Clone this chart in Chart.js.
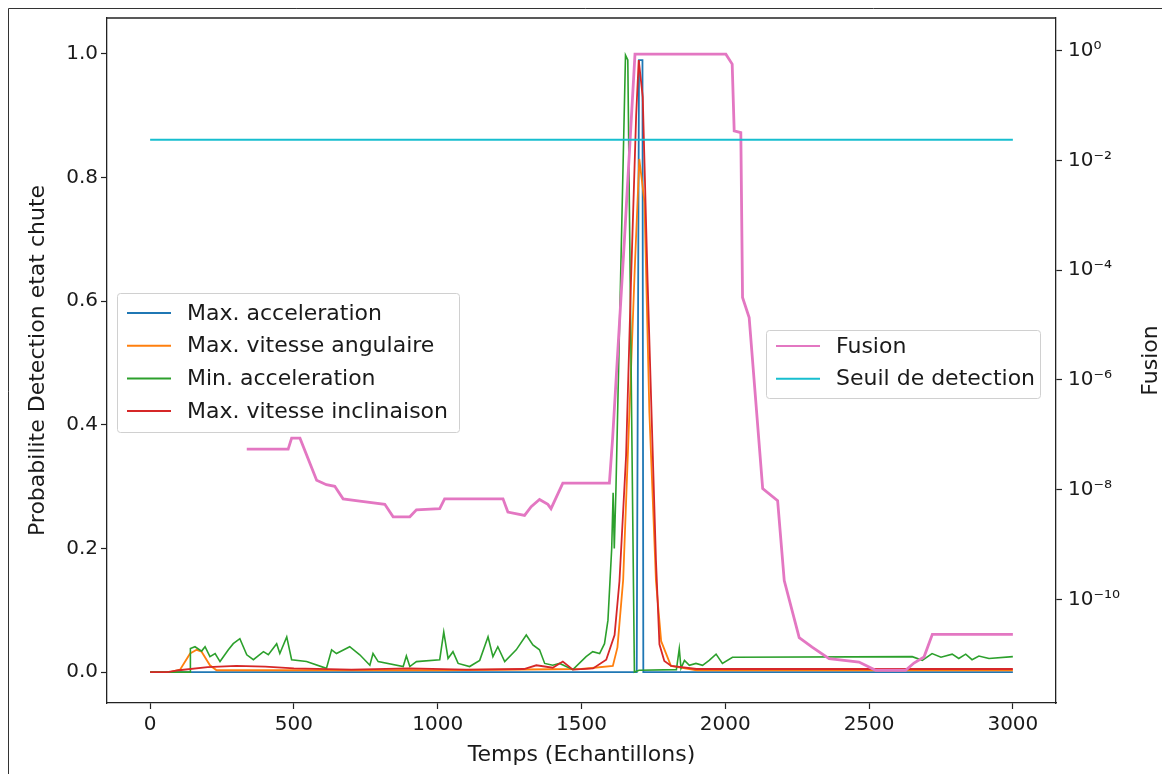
<!DOCTYPE html>
<html>
<head>
<meta charset="utf-8">
<script src="https://cdn.jsdelivr.net/npm/chart.js@4.4.1/dist/chart.umd.min.js"></script>
<style>
  html, body { margin: 0; padding: 0; background: #fff; }
  canvas { display: block; }
</style>
</head>
<body>
<canvas id="chuteChart" width="1162" height="774"></canvas>
<script>
// samples (x) and detector outputs
const accMaxX = [0, 1692, 1700, 1712, 1715, 3000];
const accMaxY = [0, 0, 0.99, 0.99, 0, 0];

const angX = [0, 69, 104, 139, 162, 179, 208, 231, 500, 1000, 1500, 1609, 1625, 1645, 1665, 1685, 1701, 1719, 1736, 1759, 1777, 1811, 1900, 3000];
const angY = [0, 0, 0.004, 0.03, 0.036, 0.033, 0.011, 0.003, 0.003, 0.003, 0.005, 0.01, 0.04, 0.15, 0.4, 0.65, 0.83, 0.76, 0.42, 0.147, 0.05, 0.01, 0.003, 0.003];

const accMinX = [0, 139, 140, 156, 179, 191, 208, 226, 243, 272, 289, 312, 336, 359, 394, 411, 440, 451, 475, 492,
  544, 613, 631, 648, 694, 729, 764, 775, 793, 880, 891, 903, 926, 1007, 1021, 1036, 1053, 1071, 1111, 1146,
  1175, 1192, 1209, 1233, 1273, 1308, 1331, 1354, 1372, 1400, 1424, 1470, 1516, 1539, 1563, 1580, 1592, 1605, 1610, 1614,
  1620, 1653, 1661, 1684, 1700, 1830, 1840, 1846, 1858, 1875, 1898, 1921, 1944, 1968, 1990, 2025, 2650, 2685, 2719, 2750,
  2789, 2812, 2836, 2858, 2882, 2917, 3000];
const accMinY = [0, 0, 0.038, 0.041, 0.034, 0.041, 0.025, 0.03, 0.017, 0.036, 0.046, 0.054, 0.028, 0.02, 0.033, 0.028, 0.046, 0.03, 0.057, 0.02,
  0.017, 0.006, 0.036, 0.03, 0.041, 0.028, 0.011, 0.03, 0.017, 0.009, 0.026, 0.009, 0.017, 0.02, 0.065, 0.022, 0.033, 0.014, 0.009, 0.019,
  0.057, 0.025, 0.041, 0.017, 0.036, 0.06, 0.044, 0.036, 0.014, 0.011, 0.014, 0.004, 0.025, 0.033, 0.03, 0.046, 0.084, 0.2, 0.29, 0.2,
  0.3, 0.998, 0.99, 0, 0.003, 0.004, 0.038, 0.006, 0.019, 0.011, 0.014, 0.011, 0.019, 0.029, 0.014, 0.024, 0.025, 0.019, 0.03, 0.024,
  0.029, 0.022, 0.029, 0.02, 0.026, 0.022, 0.025];

const incX = [0, 60, 100, 200, 300, 400, 500, 700, 900, 1100, 1300, 1343, 1400, 1435, 1470, 1540, 1586, 1615, 1632, 1655,
  1672, 1690, 1699, 1713, 1730, 1748, 1759, 1771, 1788, 1812, 1900, 3000];
const incY = [0, 0, 0.003, 0.008, 0.01, 0.009, 0.006, 0.004, 0.006, 0.004, 0.005, 0.011, 0.007, 0.017, 0.004, 0.006, 0.02, 0.06, 0.147, 0.35,
  0.63, 0.9, 0.99, 0.93, 0.63, 0.35, 0.18, 0.045, 0.018, 0.01, 0.005, 0.005];

const fusionX = [336, 480, 492, 521, 579, 613, 642, 671, 729, 816, 845, 903, 926, 1007, 1024, 1227, 1244, 1302, 1325, 1354,
  1383, 1394, 1435, 1597, 1608, 1649, 1686, 2002, 2024, 2031, 2054, 2060, 2083, 2130, 2182, 2205, 2257, 2302, 2361, 2465,
  2523, 2627, 2656, 2691, 2720, 3000];
const fusionY = [5.5e-8, 5.5e-8, 8.7e-8, 8.7e-8, 1.48e-8, 1.23e-8, 1.15e-8, 6.8e-9, 6.2e-9, 5.4e-9, 3.2e-9, 3.2e-9, 4.3e-9, 4.5e-9, 6.8e-9, 6.8e-9, 3.9e-9, 3.4e-9, 4.9e-9, 6.6e-9,
  5.4e-9, 4.5e-9, 1.32e-8, 1.32e-8, 8.3e-8, 3.4e-4, 0.87, 0.87, 0.575, 0.0347, 0.0324, 3.2e-5, 1.38e-5, 1.05e-8, 6.3e-9, 2.2e-10, 2.0e-11, 1.35e-11, 8.3e-12, 7.2e-12,
  5.1e-12, 5.1e-12, 6.9e-12, 8.9e-12, 2.3e-11, 2.3e-11];

const seuilX = [0, 3000];
const seuilY = [0.024, 0.024];

const xTicks = [0, 500, 1000, 1500, 2000, 2500, 3000];
const probTicks = [0, 0.2, 0.4, 0.6, 0.8, 1.0];
const fusionTickExp = [0, -2, -4, -6, -8, -10];

const FONT = 'DejaVu Sans';
const TEXT = '#1a1a1a';

const pts = (xs, ys) => xs.map((x, i) => ({ x: x, y: ys[i] }));
const sup = { '-': '\u207B', '0': '\u2070', '1': '\u00B9', '2': '\u00B2', '4': '\u2074', '6': '\u2076', '8': '\u2078' };

function line(label, xs, ys, color, width, axis, order) {
  return {
    label: label,
    data: pts(xs, ys),
    borderColor: color,
    backgroundColor: color,
    borderWidth: width,
    pointRadius: 0,
    tension: 0,
    fill: false,
    yAxisID: axis,
    order: order
  };
}

// legend boxes drawn by hand so there can be one per axis
function drawLegend(chart, idx, bx, by, bw, bh, firstRow) {
  const c = chart.ctx;
  c.save();
  c.fillStyle = 'rgba(255,255,255,0.85)';
  c.strokeStyle = '#d0d0d0';
  c.lineWidth = 1;
  c.beginPath();
  c.roundRect(bx + 0.5, by + 0.5, bw, bh, 3);
  c.fill();
  c.stroke();
  c.font = '22px "' + FONT + '"';
  c.textBaseline = 'middle';
  c.fillStyle = TEXT;
  idx.forEach((d, i) => {
    const ds = chart.data.datasets[d];
    const y = firstRow + i * 32.7;
    c.strokeStyle = ds.borderColor;
    c.lineWidth = 2;
    c.beginPath();
    c.moveTo(bx + 10, y);
    c.lineTo(bx + 54, y);
    c.stroke();
    c.fillText(ds.label, bx + 70, y + 1);
  });
  c.restore();
}

const extras = {
  id: 'extras',
  beforeDraw(chart) {
    const c = chart.ctx;
    c.save();
    c.fillStyle = '#fff';
    c.fillRect(0, 0, chart.width, chart.height);
    c.strokeStyle = '#333';
    c.lineWidth = 1;
    c.beginPath();
    c.moveTo(8.5, chart.height);
    c.lineTo(8.5, 8.5);
    c.lineTo(chart.width, 8.5);
    c.stroke();
    c.restore();
  },
  afterDraw(chart) {
    const c = chart.ctx, a = chart.chartArea;
    c.save();
    c.strokeStyle = '#222';
    c.lineWidth = 1.3;
    c.beginPath();
    c.moveTo(a.left, a.top);
    c.lineTo(a.right, a.top);
    c.stroke();
    c.restore();

    drawLegend(chart, [0, 1, 2, 3], 117, 293, 342, 139, 313);
    drawLegend(chart, [4, 5], 766, 330, 274, 68, 346);

    // right axis title, reading upward
    c.save();
    c.translate(1151, (a.top + a.bottom) / 2);
    c.rotate(-Math.PI / 2);
    c.font = '22px "' + FONT + '"';
    c.fillStyle = TEXT;
    c.textAlign = 'center';
    c.textBaseline = 'middle';
    c.fillText('Fusion', 0, 0);
    c.restore();
  }
};

const axisGrid = { display: true, drawOnChartArea: false, drawTicks: true, tickLength: 6, tickColor: '#222', tickWidth: 1.2 };
const axisBorder = { display: true, color: '#222', width: 1.3 };

new Chart(document.getElementById('chuteChart'), {
  type: 'line',
  data: {
    datasets: [
      line('Max. acceleration', accMaxX, accMaxY, '#1f77b4', 1.8, 'y', 6),
      line('Max. vitesse angulaire', angX, angY, '#ff7f0e', 1.8, 'y', 5),
      line('Min. acceleration', accMinX, accMinY, '#2ca02c', 1.6, 'y', 4),
      line('Max. vitesse inclinaison', incX, incY, '#d62728', 1.8, 'y', 3),
      line('Fusion', fusionX, fusionY, '#e377c2', 2.8, 'y2', 2),
      line('Seuil de detection', seuilX, seuilY, '#17becf', 1.8, 'y2', 1)
    ]
  },
  options: {
    responsive: false,
    animation: false,
    devicePixelRatio: 1,
    layout: { padding: { top: 17, left: 0, right: 0, bottom: 0 } },
    plugins: { legend: { display: false }, tooltip: { enabled: false } },
    scales: {
      x: {
        type: 'linear',
        position: 'bottom',
        min: -150,
        max: 3150,
        afterBuildTicks: s => { s.ticks = xTicks.map(v => ({ value: v })); },
        afterFit: s => { s.height = 71; },
        grid: axisGrid,
        border: axisBorder,
        ticks: { color: TEXT, font: { family: FONT, size: 20 }, padding: 4, maxRotation: 0, callback: v => String(v) },
        title: { display: true, text: 'Temps (Echantillons)', color: TEXT, font: { family: FONT, size: 22 }, padding: { top: 0, bottom: 6 } }
      },
      y: {
        type: 'linear',
        position: 'left',
        min: -0.05,
        max: 1.058,
        afterBuildTicks: s => { s.ticks = probTicks.map(v => ({ value: v })); },
        afterFit: s => { s.width = 107; },
        grid: axisGrid,
        border: axisBorder,
        ticks: { color: TEXT, font: { family: FONT, size: 20 }, padding: 3, callback: v => v.toFixed(1) },
        title: { display: true, text: 'Probabilite Detection etat chute', color: TEXT, font: { family: FONT, size: 22 }, padding: { top: 25, bottom: 0 } }
      },
      y2: {
        type: 'logarithmic',
        position: 'right',
        min: Math.pow(10, -11.89),
        max: Math.pow(10, 0.6),
        afterBuildTicks: s => { s.ticks = fusionTickExp.map(e => ({ value: Math.pow(10, e) })); },
        afterFit: s => { s.width = 106; },
        grid: axisGrid,
        border: axisBorder,
        ticks: {
          color: TEXT,
          font: { family: FONT, size: 20 },
          padding: 6,
          callback: v => '10' + String(Math.round(Math.log10(v))).split('').map(ch => sup[ch]).join('')
        }
      }
    }
  },
  plugins: [extras]
});
</script>
</body>
</html>
